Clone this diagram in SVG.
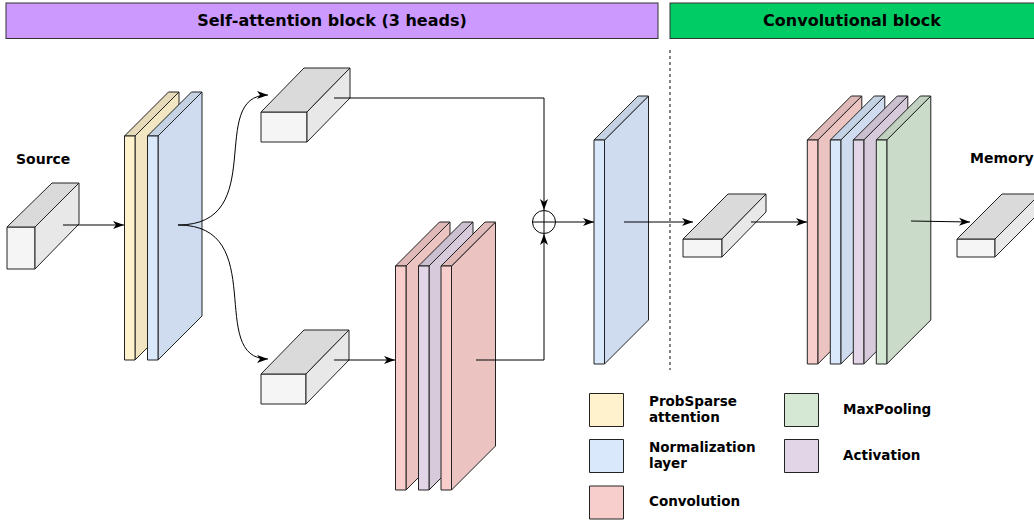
<svg xmlns="http://www.w3.org/2000/svg" xmlns:xlink="http://www.w3.org/1999/xlink" width="1034" height="521" viewBox="0 0 1034 521">
<style>
text{font-family:"DejaVu Sans","Liberation Sans",sans-serif;font-weight:bold;fill:#000}
.hd{font-size:16px;text-anchor:middle}
.lb{font-size:14px}
.lg{font-size:13.5px}
.f{stroke:#222;stroke-width:1;stroke-linejoin:round}
.yf{fill:#FFF2CC}.ys{fill:#F2E6C2}.yt{fill:#E6DAB8}
.bf{fill:#DAE8FC}.bs{fill:#CFDCEF}.bt{fill:#C4D2E4}
.pf{fill:#F8CECC}.ps{fill:#EBC4C2}.pt{fill:#DFB9B8}
.vf{fill:#E1D5E7}.vs{fill:#D6CADB}.vt{fill:#CBC0D0}
.gf{fill:#D5E8D4}.gs{fill:#CADCC9}.gt{fill:#C0D1BF}
.kf{fill:#F5F5F5}.ks{fill:#E8E8E8}.kt{fill:#DADADA}
.c{fill:none;stroke:#000;stroke-width:1}
</style>
<defs>
<marker id="ar" markerWidth="11" markerHeight="9" refX="11" refY="4.5" orient="auto" markerUnits="userSpaceOnUse">
<path d="M0,0.5 L11,4.5 L0,8.5 L3,4.5 Z" fill="#000"/>
</marker>
<path id="plF" d="M0,0h10.5v224h-10.5z"/>
<path id="plT" d="M0,0l44,-44h10.5l-44,44z"/>
<path id="plS" d="M10.5,0l44,-44v224l-44,44z"/>
</defs>

<g id="header-attention">
<rect x="6" y="3" width="652" height="35.5" fill="#CC99FF" stroke="#333"/>
<text class="hd" x="332" y="26">Self-attention block (3 heads)</text>
</g>
<g id="header-conv">
<rect x="670" y="3" width="368" height="35.5" fill="#00CC66" stroke="#333"/>
<text class="hd" x="852" y="26">Convolutional block</text>
</g>

<g id="separator">
<path d="M670,50 V370" fill="none" stroke="#333" stroke-width="1.2" stroke-dasharray="3,3"/>
</g>

<g id="source">
<text class="lb" x="16" y="164">Source</text>
<path class="f kf" d="M7,227h28v42h-28z"/>
<path class="f kt" d="M7,227l45,-44h27l-44,44z"/>
<path class="f ks" d="M35,227l44,-44v41l-44,45z"/>
</g>

<g id="probsparse-attention" transform="translate(124.5,136)">
<use href="#plS" class="f ys"/><use href="#plT" class="f yt"/><use href="#plF" class="f yf"/>
</g>
<g id="norm-1" transform="translate(147.5,136)">
<use href="#plS" class="f bs"/><use href="#plT" class="f bt"/><use href="#plF" class="f bf"/>
</g>

<g id="head-top">
<path class="f kf" d="M261,112h46v30h-46z"/>
<path class="f kt" d="M261,112l43,-44h46l-43,44z"/>
<path class="f ks" d="M307,112l43,-44v30l-43,44z"/>
</g>

<g id="head-bottom">
<path class="f kf" d="M261,374h45v30h-45z"/>
<path class="f kt" d="M261,374l43,-44h45l-43,44z"/>
<path class="f ks" d="M306,374l43,-44v30l-43,44z"/>
</g>

<g id="conv-stack-1">
<g transform="translate(395.5,266)"><use href="#plS" class="f ps"/><use href="#plT" class="f pt"/><use href="#plF" class="f pf"/></g>
<g transform="translate(418.5,266)"><use href="#plS" class="f vs"/><use href="#plT" class="f vt"/><use href="#plF" class="f vf"/></g>
<g transform="translate(441,266)"><use href="#plS" class="f ps"/><use href="#plT" class="f pt"/><use href="#plF" class="f pf"/></g>
</g>

<g id="sum">
<circle cx="544" cy="222" r="11.5" fill="#fff" stroke="#000"/>
<path d="M532.5,222h23M544,210.5v23" stroke="#000" fill="none"/>
</g>

<g id="norm-2" transform="translate(594,140)">
<use href="#plS" class="f bs"/><use href="#plT" class="f bt"/><use href="#plF" class="f bf"/>
</g>

<g id="attention-output">
<path class="f kf" d="M683,239h39v18h-39z"/>
<path class="f kt" d="M683,239l45,-45h38l-44,45z"/>
<path class="f ks" d="M722,239l44,-45v18l-44,45z"/>
</g>

<g id="conv-stack-2">
<g transform="translate(807.3,140)"><use href="#plS" class="f ps"/><use href="#plT" class="f pt"/><use href="#plF" class="f pf"/></g>
<g transform="translate(830.3,140)"><use href="#plS" class="f bs"/><use href="#plT" class="f bt"/><use href="#plF" class="f bf"/></g>
<g transform="translate(853.3,140)"><use href="#plS" class="f vs"/><use href="#plT" class="f vt"/><use href="#plF" class="f vf"/></g>
<g transform="translate(876.3,140)"><use href="#plS" class="f gs"/><use href="#plT" class="f gt"/><use href="#plF" class="f gf"/></g>
</g>

<g id="memory">
<text class="lb" x="970" y="163">Memory</text>
<path class="f kf" d="M957,239h38v18h-38z"/>
<path class="f kt" d="M957,239l45,-45h38l-45,45z"/>
<path class="f ks" d="M995,239l45,-45v18l-45,45z"/>
</g>

<g id="connectors">
<path class="c" d="M63,225H124" marker-end="url(#ar)"/>
<path class="c" d="M178,225C270,225 206,95 268,95" marker-end="url(#ar)"/>
<path class="c" d="M178,225C270,225 206,359 268,359" marker-end="url(#ar)"/>
<path class="c" d="M334,98H544V210" marker-end="url(#ar)"/>
<path class="c" d="M334,360H395" marker-end="url(#ar)"/>
<path class="c" d="M476,360H544V234" marker-end="url(#ar)"/>
<path class="c" d="M556,222H594" marker-end="url(#ar)"/>
<path class="c" d="M624,222H693" marker-end="url(#ar)"/>
<path class="c" d="M751,222H807" marker-end="url(#ar)"/>
<path class="c" d="M911,221L970,222" marker-end="url(#ar)"/>
</g>

<g id="legend">
<g id="legend-probsparse"><rect x="589.5" y="393.5" width="34" height="33" class="f yf"/><text class="lg" x="649" y="406">ProbSparse</text><text class="lg" x="649" y="422">attention</text></g>
<g id="legend-norm"><rect x="589.5" y="439.5" width="34" height="33" class="f bf"/><text class="lg" x="649" y="452">Normalization</text><text class="lg" x="649" y="468">layer</text></g>
<g id="legend-conv"><rect x="589.5" y="486" width="34" height="33" class="f pf"/><text class="lg" x="649" y="506">Convolution</text></g>
<g id="legend-maxpool"><rect x="784.5" y="393.5" width="34" height="33" class="f gf"/><text class="lg" x="843" y="414">MaxPooling</text></g>
<g id="legend-activation"><rect x="784.5" y="439.5" width="34" height="33" class="f vf"/><text class="lg" x="843" y="460">Activation</text></g>
</g>
</svg>
